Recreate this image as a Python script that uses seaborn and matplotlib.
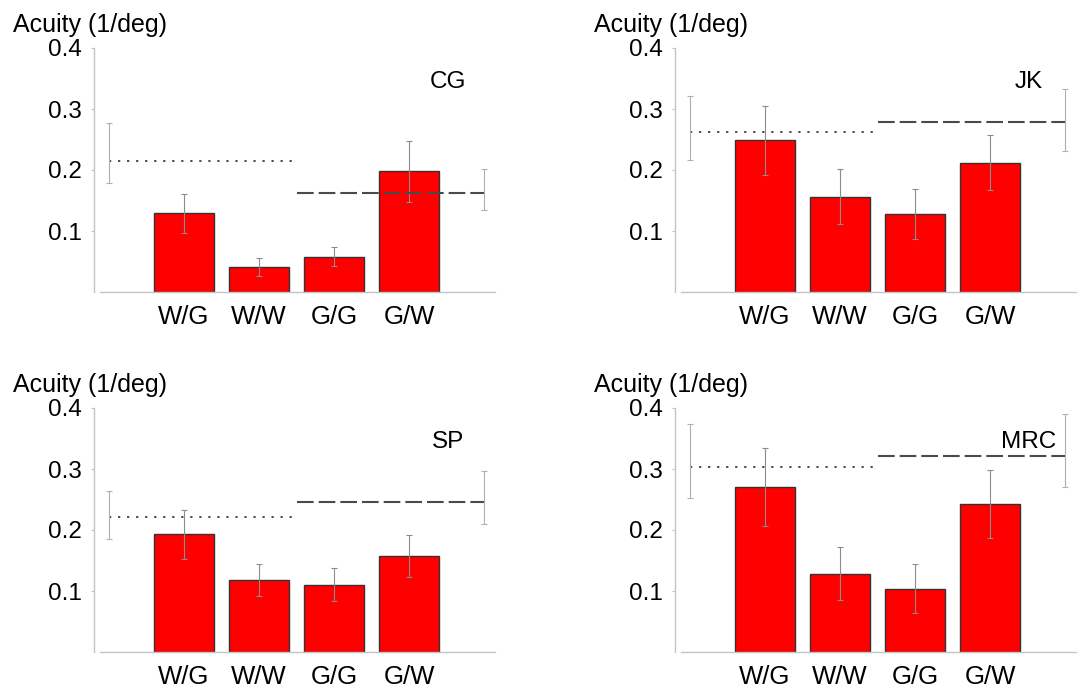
import numpy as np
import pandas as pd
import seaborn as sns
import matplotlib.pyplot as plt

# --------------------------------------------------#
# Data
# --------------------------------------------------#

conditions = ["W/G", "W/W", "G/G", "G/W"]
subjects = ["CG", "JK", "SP", "MRC"]

bar_mean = [[0.129, 0.041, 0.058, 0.198],
            [0.249, 0.156, 0.128, 0.212],
            [0.193, 0.118, 0.110, 0.158],
            [0.270, 0.128, 0.104, 0.243]]
bar_low = [[0.097, 0.026, 0.043, 0.148],
           [0.192, 0.111, 0.087, 0.167],
           [0.153, 0.091, 0.083, 0.123],
           [0.207, 0.085, 0.064, 0.187]]
bar_high = [[0.161, 0.056, 0.074, 0.248],
            [0.305, 0.201, 0.169, 0.257],
            [0.232, 0.145, 0.138, 0.191],
            [0.335, 0.172, 0.145, 0.299]]

dotted_mean = [0.214, 0.263, 0.221, 0.304]
dotted_low = [0.178, 0.216, 0.185, 0.252]
dotted_high = [0.277, 0.321, 0.264, 0.373]

dashed_mean = [0.162, 0.279, 0.246, 0.321]
dashed_low = [0.134, 0.231, 0.210, 0.270]
dashed_high = [0.201, 0.333, 0.297, 0.390]

y_ticks = [0.1, 0.2, 0.3, 0.4]
y_label = "Acuity (1/deg)"

# --------------------------------------------------#
# Style
# --------------------------------------------------#

sns.set_style("white")
plt.rcParams["font.family"] = ["Liberation Sans", "DejaVu Sans"]
plt.rcParams["lines.scale_dashes"] = False
plt.rcParams["text.color"] = "black"
plt.rcParams["xtick.labelcolor"] = "black"
plt.rcParams["ytick.labelcolor"] = "black"

FS = 17.5
axis_col = "#c4c4c4"
err_col = "#8c8c8c"
ref_col = "#4a4a4a"

fig = plt.figure(figsize=(10.78, 6.88), dpi=100)
W, H = 1078, 688
positions = [(94, 292), (675, 292), (94, 652), (675, 652)]  # (left px, bottom px)

for i, subj in enumerate(subjects):
    left, bottom = positions[i]
    ax = fig.add_axes([left / W, 1 - bottom / H, 405 / W, 244 / H])

    df = pd.DataFrame({"cond": conditions, "acuity": bar_mean[i]})
    sns.barplot(data=df, x="cond", y="acuity", color="#ff0000", saturation=1,
                edgecolor="#333333", linewidth=1, width=0.8, errorbar=None, ax=ax)

    xs = np.arange(len(conditions))
    m = np.array(bar_mean[i])
    ax.errorbar(xs, m, yerr=[m - np.array(bar_low[i]), np.array(bar_high[i]) - m],
                fmt="none", ecolor=err_col, elinewidth=0.8, capsize=2.5, capthick=0.8)

    # reference levels
    ax.plot([-1, 1.45], [dotted_mean[i]] * 2, color=ref_col, lw=1.4,
            linestyle=(0, (1.6, 4.9)))
    ax.errorbar([-1], [dotted_mean[i]],
                yerr=[[dotted_mean[i] - dotted_low[i]], [dotted_high[i] - dotted_mean[i]]],
                fmt="none", ecolor="#b0b0b0", elinewidth=0.8, capsize=2.5, capthick=0.8)
    ax.plot([1.5, 4], [dashed_mean[i]] * 2, color=ref_col, lw=1.5,
            linestyle=(0, (12, 3.6)))
    ax.errorbar([4], [dashed_mean[i]],
                yerr=[[dashed_mean[i] - dashed_low[i]], [dashed_high[i] - dashed_mean[i]]],
                fmt="none", ecolor="#b0b0b0", elinewidth=0.8, capsize=2.5, capthick=0.8)

    ax.text(3.52, 0.345, subj, fontsize=FS, ha="center", va="center", color="black")

    ax.set_xlim(-1.2, 4.2)
    ax.set_ylim(0, 0.4)
    ax.set_yticks(y_ticks)
    ax.set_yticklabels([f"{t:.1f}" for t in y_ticks], fontsize=FS)
    ax.set_xticks(xs)
    ax.set_xticklabels(conditions, fontsize=18.5)
    ax.set_xlabel("")
    ax.set_ylabel("")
    ax.tick_params(axis="y", length=2.5, width=0.8, color=axis_col, pad=6, direction="out",
                   left=True, labelcolor="black")
    ax.tick_params(axis="x", length=0, pad=9.5, labelcolor="black")

    sns.despine(ax=ax)
    ax.spines["left"].set_color(axis_col)
    ax.spines["left"].set_linewidth(1)
    ax.spines["bottom"].set_color(axis_col)
    ax.spines["bottom"].set_linewidth(1)
    ax.spines["bottom"].set_bounds(-1.12, 4.15)

    ax.annotate(y_label, xy=(0, 1), xycoords="axes fraction",
                xytext=(-58.5, 16.5), textcoords="offset points",
                fontsize=18, ha="left", va="center", color="black")

fig.savefig("out.png", dpi=100)
